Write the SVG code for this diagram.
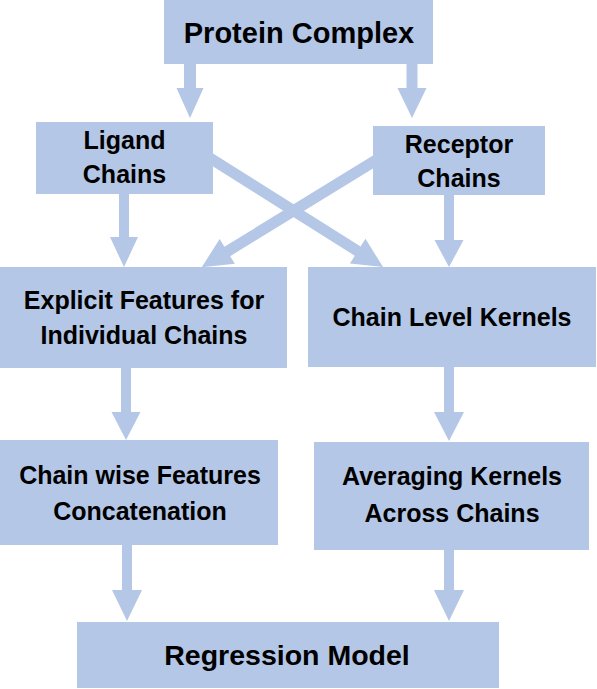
<svg xmlns="http://www.w3.org/2000/svg" width="597" height="689" viewBox="0 0 597 689">
  <style>
    .box { fill: #B4C7E7; }
    .arrow { fill: #B4C7E7; }
    .t { font-family: "Liberation Sans", Arial, sans-serif; font-weight: bold; font-size: 25px; fill: #000; text-anchor: middle; }
    .big { font-size: 29px; }
    .reg { font-size: 28.5px; }
  </style>
  <rect width="597" height="689" fill="#ffffff"/>
  <g id="connectors">
    <polygon class="arrow" points="184,60 196,60 196,88 203.5,88 190,118 176.5,88 184,88"/>
    <polygon class="arrow" points="406.5,60 417.5,60 417.5,88 426.5,88 412,118 397.5,88 406.5,88"/>
    <polygon class="arrow" points="119,190 129,190 129,237 138,237 124,267 110,237 119,237"/>
    <polygon class="arrow" points="444,190 454,190 454,240 463.5,240 449,267 434.5,240 444,240"/>
    <polygon class="arrow" points="121,364 131,364 131,412 140.5,412 126,440 111.5,412 121,412"/>
    <polygon class="arrow" points="444,364 454,364 454,412 464,412 449,441 434,412 444,412"/>
    <polygon class="arrow" points="122,541 132,541 132,590 142,590 127,621 112,590 122,590"/>
    <polygon class="arrow" points="444,546 454,546 454,590 464,590 449,621 434,590 444,590"/>
    <polygon class="arrow" transform="translate(213,160) rotate(32.2)" points="-10,-5.5 171,-5.5 171,-14.5 201,0 171,14.5 171,5.5 -10,5.5"/>
    <polygon class="arrow" transform="translate(373,162) rotate(148.45)" points="-10,-5.5 171,-5.5 171,-14.5 201,0 171,14.5 171,5.5 -10,5.5"/>
  </g>
  <g id="protein-complex">
    <rect class="box" x="164" y="0" width="269" height="64"/>
    <text class="t big" x="299" y="43">Protein Complex</text>
  </g>
  <g id="ligand-chains">
    <rect class="box" x="36" y="122" width="177" height="72"/>
    <text class="t" x="124.5" y="149">Ligand</text>
    <text class="t" x="124.5" y="183">Chains</text>
  </g>
  <g id="receptor-chains">
    <rect class="box" x="373" y="126" width="172" height="69"/>
    <text class="t" x="459" y="153">Receptor</text>
    <text class="t" x="459" y="187">Chains</text>
  </g>
  <g id="explicit-features">
    <rect class="box" x="0" y="267" width="287" height="101"/>
    <text class="t" x="144" y="309">Explicit Features for</text>
    <text class="t" x="144" y="344">Individual Chains</text>
  </g>
  <g id="chain-level-kernels">
    <rect class="box" x="308" y="267" width="288" height="100"/>
    <text class="t" x="452" y="326">Chain Level Kernels</text>
  </g>
  <g id="chain-wise-concat">
    <rect class="box" x="0" y="440" width="278" height="105"/>
    <text class="t" x="140" y="484">Chain wise Features</text>
    <text class="t" x="140" y="520">Concatenation</text>
  </g>
  <g id="averaging-kernels">
    <rect class="box" x="314" y="442" width="275" height="108"/>
    <text class="t" x="452" y="485">Averaging Kernels</text>
    <text class="t" x="452" y="522">Across Chains</text>
  </g>
  <g id="regression-model">
    <rect class="box" x="77" y="622" width="422" height="66"/>
    <text class="t reg" x="287" y="665">Regression Model</text>
  </g>
</svg>
